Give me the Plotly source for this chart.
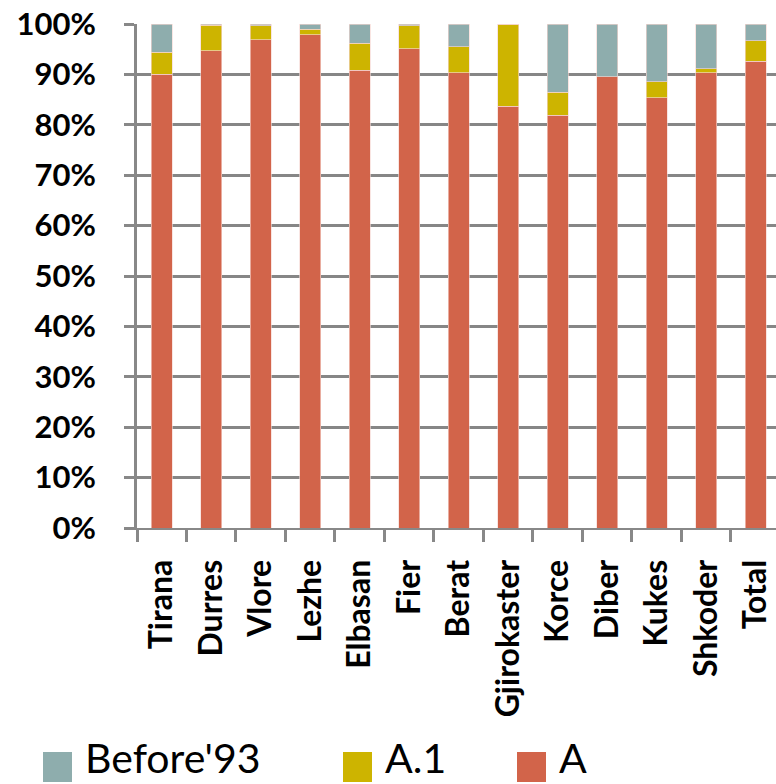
import plotly.graph_objects as go

regions = ["Tirana", "Durres", "Vlore", "Lezhe", "Elbasan", "Fier", "Berat",
           "Gjirokaster", "Korce", "Diber", "Kukes", "Shkoder", "Total"]
share_a = [90.0, 94.7, 96.9, 97.9, 90.8, 95.1, 90.3, 83.7, 81.9, 89.5, 85.4, 90.3, 92.6]
share_a1 = [4.4, 5.1, 2.8, 1.1, 5.4, 4.6, 5.2, 16.3, 4.6, 0.0, 3.1, 0.8, 4.1]
share_before93 = [5.6, 0.2, 0.3, 1.0, 3.8, 0.3, 4.5, 0.0, 13.5, 10.5, 11.5, 8.9, 3.3]
y_ticks = [0, 10, 20, 30, 40, 50, 60, 70, 80, 90, 100]
y_ticklabels = [f"{v}%" for v in y_ticks]

series = [("A", share_a, "#D2644A"), ("A.1", share_a1, "#CDB400"), ("Before'93", share_before93, "#8EADAD")]

W, H = 776, 784
ML, MR, MT, MB = 137, 0, 24, 256
PW, PH = W - ML - MR, H - MT - MB

FONT = "Lato"
fig = go.Figure()
for name, vals, col in series:
    fig.add_trace(go.Bar(x=regions, y=vals, name=name, marker_color=col,
                         marker_line_width=0.8, marker_line_color="rgba(245,215,210,0.8)",
                         width=0.42, showlegend=False))

fig.update_layout(
    barmode="stack", width=W, height=H,
    margin=dict(l=ML, r=MR, t=MT, b=MB),
    paper_bgcolor="white", plot_bgcolor="white",
    font=dict(family=FONT, color="black"),
    xaxis=dict(range=[-0.5, 12.41], showline=True, linecolor="#888888", linewidth=2,
               ticks="outside", tickson="boundaries", ticklen=12, tickwidth=2.5,
               tickcolor="#888888", tickangle=-90, ticklabelstandoff=17,
               tickfont=dict(family=FONT, size=32, weight="bold"), showgrid=False),
    yaxis=dict(range=[0, 100], tickvals=y_ticks, ticktext=y_ticklabels,
               showline=True, linecolor="#888888", linewidth=3,
               ticks="outside", ticklen=10, tickwidth=2.5, tickcolor="#888888",
               showgrid=True, gridcolor="#868686", gridwidth=2.5,
               ticklabelstandoff=22, zeroline=False,
               tickfont=dict(family=FONT, size=31, weight="bold")),
)

def px2paper(xp, yp):
    return (xp - ML) / PW, (H - MB - yp) / PH

legend_items = [("Before'93", "#8EADAD", 43), ("A.1", "#CDB400", 343), ("A", "#D2644A", 517)]
for label, col, x0 in legend_items:
    xa, ya = px2paper(x0, 782)
    xb, yb = px2paper(x0 + 29, 752)
    fig.add_shape(type="rect", xref="paper", yref="paper", x0=xa, x1=xb, y0=ya, y1=yb,
                  fillcolor=col, line_width=0)
    tx, ty = px2paper(x0 + 41, 783)
    fig.add_annotation(xref="paper", yref="paper", x=tx, y=ty, text=label,
                       showarrow=False, xanchor="left", yanchor="bottom", borderpad=0,
                       font=dict(family=FONT, size=41, color="black"))

fig.write_html("out.html")
